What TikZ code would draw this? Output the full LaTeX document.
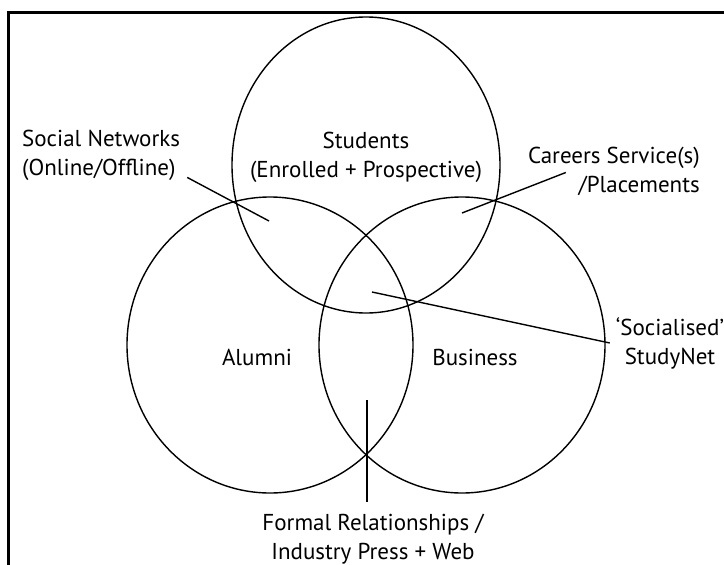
\documentclass[tikz,border=0pt]{standalone}
\usepackage{fontspec}
\setmainfont{PT Sans}
\begin{document}
\begin{tikzpicture}
    [x=1pt, y=-1pt,
     setEllipse/.style={line width=1.4pt},
     myLabel/.style={align=center,
                     inner sep=2pt,
                     font=\fontsize{23}{29}\selectfont},
     myPointer/.style={line width=1.4pt}]

    \useasboundingbox (0,0) rectangle (724,565);
    \draw[line width=3pt] (8.5,570) -- (8.5,12.5) -- (730,12.5);

    % the three sets
    \draw[setEllipse] (366,165) ellipse [x radius=134pt, y radius=148pt];
    \draw[setEllipse] (270,345) ellipse [x radius=143pt, y radius=148pt];
    \draw[setEllipse] (462,345) ellipse [x radius=143pt, y radius=148pt];

    \node[myLabel] (students) at (366,157) {Students\\(Enrolled + Prospective)};
    \node[myLabel] (alumni) at (257,357) {Alumni};
    \node[myLabel] (business) at (475,357) {Business};

    \node[myLabel, align=left, anchor=west] (socialNet) at (20,155) {Social Networks\\(Online/Offline)};
    \node[myLabel, align=right, anchor=east] (careers) at (702,171) {Careers Service(s)\\/Placements};
    \node[myLabel] (studyNet) at (670,343) {`Socialised'\\StudyNet};
    \node[myLabel] (formalRel) at (373,539) {Formal Relationships /\\Industry Press + Web};

    \coordinate (socialPt) at (269,221);
    \coordinate (careersPt) at (462,213);
    \coordinate (studyPt) at (372,292);
    \coordinate (formalPt) at (367,400);

    \draw[myPointer] ([shift={(5,-5)}]socialNet.south east) to (socialPt);
    \draw[myPointer] ([shift={(40,-25)}]careers.south west) to (careersPt);
    \draw[myPointer] ([shift={(-4,0)}]studyNet.west) to (studyPt);
    \draw[myPointer] ([shift={(-6,-10)}]formalRel.north) to (formalPt);
\end{tikzpicture}
\end{document}
